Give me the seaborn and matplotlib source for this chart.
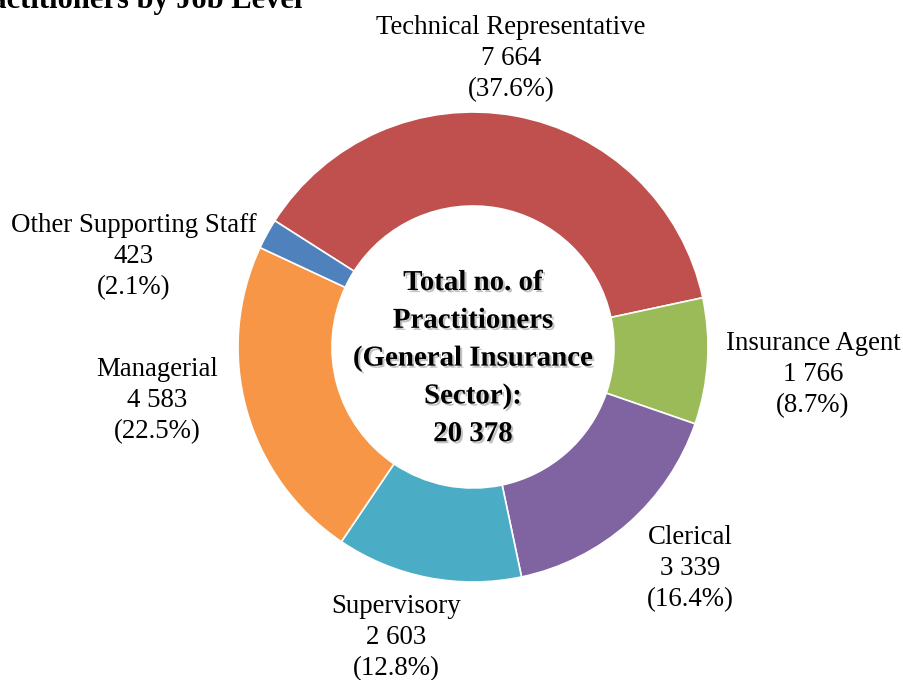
import matplotlib
matplotlib.use("Agg")
import matplotlib.pyplot as plt
import matplotlib.patheffects as pe
import seaborn as sns

sns.set_style("white")
plt.rcParams['font.family'] = ['Liberation Serif', 'DejaVu Serif']

categories = ["Technical Representative", "Insurance Agent", "Clerical",
              "Supervisory", "Managerial", "Other Supporting Staff"]
counts = [7664, 1766, 3339, 2603, 4583, 423]
count_labels = ["7 664", "1 766", "3 339", "2 603", "4 583", "423"]
pct_labels = ["37.6%", "8.7%", "16.4%", "12.8%", "22.5%", "2.1%"]
colors = ["#C0504D", "#9BBB59", "#8064A2", "#4BACC6", "#F79646", "#4F81BD"]
total_label = "20 378"
title = "Practitioners by Job Level"

W, H = 904, 680
fig = plt.figure(figsize=(W / 100, H / 100), dpi=100)
ax = fig.add_axes([0, 0, 1, 1])

cx, cy, R = 473, H - 347, 235
ax.pie(counts, colors=colors, startangle=147.5, counterclock=False,
       center=(cx, cy), radius=R,
       wedgeprops=dict(width=R * 0.4, edgecolor="white", linewidth=1.2))
ax.set_xlim(0, W)
ax.set_ylim(0, H)
ax.set_aspect("equal")
ax.axis("off")

# label positions in pixel coords (x center, baseline of first line)
label_pos = [(511, 34), (813, 350), (690, 544), (396, 613), (157, 376), (134, 232)]
for cat, cl, pl, (px, py) in zip(categories, count_labels, pct_labels, label_pos):
    for i, t in enumerate([cat, cl, "(" + pl + ")"]):
        ax.text(px, H - (py + i * 31), t, ha="center", va="baseline",
                fontsize=19.4, color="black")

center_lines = ["Total no. of", "Practitioners", "(General Insurance",
                "Sector):", total_label]
for i, t in enumerate(center_lines):
    ax.text(cx, H - (290 + i * 37.8), t, ha="center", va="baseline",
            fontsize=20.8, fontweight="bold", color="black",
            path_effects=[pe.withSimplePatchShadow(offset=(1.5, -1.5),
                                                   shadow_rgbFace="#888888",
                                                   alpha=0.5)])

ax.text(302, H - 8, title, ha="right", va="baseline", fontsize=22,
        fontweight="bold", color="black")

fig.savefig("out.png", dpi=100)
